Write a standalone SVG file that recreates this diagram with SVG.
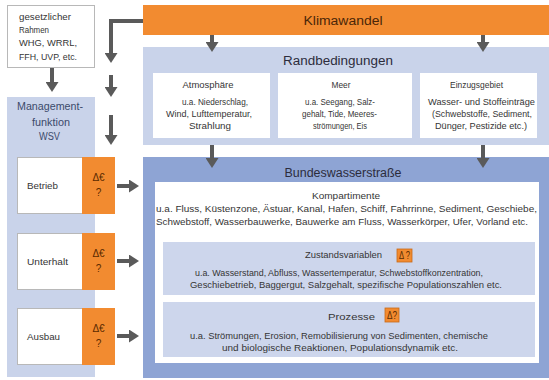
<svg xmlns="http://www.w3.org/2000/svg" width="549" height="380" viewBox="0 0 549 380">
<style>
text{font-family:"Liberation Sans",Arial,sans-serif;fill:#353535;font-size:9.5px;text-anchor:middle}
.t{font-size:12.5px;fill:#2c2c3c}
.kl{font-size:12.5px;fill:#4a2608}
.l{text-anchor:start}
.m{fill:#3c4a6a;font-size:10px}
.o{fill:#5a2a00;font-size:10px}
.lb{fill:#c9d3ea}
.wb{fill:#fff}
.wg{fill:#fff;stroke:#b8b8b8;stroke-width:1}
.or{fill:#f28b30}
.conn line,.conn path{stroke:#5a5a5a;stroke-width:4;fill:none}
</style>
<defs>
<marker id="ah" viewBox="0 0 10 13" refX="1" refY="6.5" markerWidth="10" markerHeight="13" markerUnits="userSpaceOnUse" orient="auto">
<path d="M0,0 L10,6.5 L0,13 z" fill="#5a5a5a"/>
</marker>
</defs>
<rect width="549" height="380" fill="#fff"/>

<g id="klimawandel">
<rect class="or" x="143" y="5" width="406" height="30"/>
<text class="kl" x="343" y="25" textLength="79" lengthAdjust="spacingAndGlyphs">Klimawandel</text>
</g>

<g id="gesetz">
<rect class="wg" x="7.5" y="5.5" width="87" height="62"/>
<text class="l" x="19" y="20" textLength="52" lengthAdjust="spacingAndGlyphs">gesetzlicher</text>
<text class="l" x="19" y="33" textLength="30" lengthAdjust="spacingAndGlyphs">Rahmen</text>
<text class="l" x="19" y="46" textLength="58" lengthAdjust="spacingAndGlyphs">WHG, WRRL,</text>
<text class="l" x="19" y="60" textLength="58" lengthAdjust="spacingAndGlyphs">FFH, UVP, etc.</text>
</g>

<g id="randbedingungen">
<rect class="lb" x="143" y="47" width="406" height="98"/>
<text class="t" x="338" y="65" textLength="110" lengthAdjust="spacingAndGlyphs">Randbedingungen</text>
</g>

<g id="atmosphaere">
<rect class="wb" x="153" y="73" width="117" height="65"/>
<text x="208" y="88" textLength="51" lengthAdjust="spacingAndGlyphs">Atmosphäre</text>
<text x="215" y="105" textLength="66" lengthAdjust="spacingAndGlyphs">u.a. Niederschlag,</text>
<text x="209" y="117" textLength="86" lengthAdjust="spacingAndGlyphs">Wind,  Lufttemperatur,</text>
<text x="210" y="129" textLength="42" lengthAdjust="spacingAndGlyphs">Strahlung</text>
</g>

<g id="meer">
<rect class="wb" x="278" y="73" width="134" height="65"/>
<text x="341" y="88" textLength="19" lengthAdjust="spacingAndGlyphs">Meer</text>
<text x="340" y="105" textLength="70" lengthAdjust="spacingAndGlyphs">u.a. Seegang, Salz-</text>
<text x="339.5" y="117" textLength="75" lengthAdjust="spacingAndGlyphs">gehalt, Tide, Meeres-</text>
<text x="340" y="129" textLength="54" lengthAdjust="spacingAndGlyphs">strömungen, Eis</text>
</g>

<g id="einzugsgebiet">
<rect class="wb" x="420" y="73" width="117" height="65"/>
<text x="476.5" y="88" textLength="53" lengthAdjust="spacingAndGlyphs">Einzugsgebiet</text>
<text x="481.5" y="105" textLength="107" lengthAdjust="spacingAndGlyphs">Wasser- und Stoffeinträge</text>
<text x="482" y="117" textLength="100" lengthAdjust="spacingAndGlyphs">(Schwebstoffe, Sediment,</text>
<text x="481" y="129" textLength="92" lengthAdjust="spacingAndGlyphs">Dünger, Pestizide etc.)</text>
</g>

<g id="management">
<rect class="lb" x="7" y="97" width="88" height="280"/>
<text class="m" x="50" y="110" textLength="66" lengthAdjust="spacingAndGlyphs">Management-</text>
<text class="m" x="51" y="126" textLength="38" lengthAdjust="spacingAndGlyphs">funktion</text>
<text class="m" x="49.5" y="140" textLength="21" lengthAdjust="spacingAndGlyphs">WSV</text>
</g>

<g id="betrieb">
<rect class="wg" x="17.5" y="157.5" width="65" height="56"/>
<rect class="or" x="82" y="157" width="33" height="57"/>
<text class="l" x="27" y="189" textLength="31" lengthAdjust="spacingAndGlyphs">Betrieb</text>
<text class="o" x="98.5" y="181">Δ€</text>
<text class="o" x="98.5" y="196">?</text>
</g>

<g id="unterhalt">
<rect class="wg" x="17.5" y="233.5" width="65" height="56"/>
<rect class="or" x="82" y="233" width="33" height="57"/>
<text class="l" x="27" y="265" textLength="41" lengthAdjust="spacingAndGlyphs">Unterhalt</text>
<text class="o" x="98.5" y="257">Δ€</text>
<text class="o" x="98.5" y="272">?</text>
</g>

<g id="ausbau">
<rect class="wg" x="17.5" y="308.5" width="65" height="56"/>
<rect class="or" x="82" y="308" width="33" height="57"/>
<text class="l" x="27" y="340" textLength="33" lengthAdjust="spacingAndGlyphs">Ausbau</text>
<text class="o" x="98.5" y="332">Δ€</text>
<text class="o" x="98.5" y="347">?</text>
</g>

<g id="bundeswasserstrasse">
<rect fill="#8ea4d4" x="143" y="157" width="406" height="221"/>
<text class="t" x="343" y="177" textLength="117" lengthAdjust="spacingAndGlyphs">Bundeswasserstraße</text>
</g>

<g id="kompartimente">
<rect class="wb" x="155" y="182" width="384" height="181"/>
<text x="346" y="199" textLength="68" lengthAdjust="spacingAndGlyphs">Kompartimente</text>
<text x="346.5" y="212" textLength="381" lengthAdjust="spacingAndGlyphs">u.a. Fluss, Küstenzone, Ästuar, Kanal, Hafen, Schiff, Fahrrinne, Sediment, Geschiebe,</text>
<text x="342" y="225" textLength="372" lengthAdjust="spacingAndGlyphs">Schwebstoff, Wasserbauwerke, Bauwerke am Fluss, Wasserkörper, Ufer, Vorland etc.</text>
</g>

<g id="zustandsvariablen">
<rect fill="#cdd6ec" x="163" y="242" width="372" height="53"/>
<text x="343.5" y="258" textLength="77" lengthAdjust="spacingAndGlyphs">Zustandsvariablen</text>
<rect class="or" x="397" y="249" width="15" height="13" stroke="#c86a18" stroke-width="0.8"/>
<text class="o" x="404.5" y="259" font-size="9.5" textLength="11" lengthAdjust="spacingAndGlyphs">Δ ?</text>
<text x="339" y="276" textLength="288" lengthAdjust="spacingAndGlyphs">u.a. Wasserstand, Abfluss, Wassertemperatur, Schwebstoffkonzentration,</text>
<text x="346" y="288" textLength="312" lengthAdjust="spacingAndGlyphs">Geschiebetrieb, Baggergut, Salzgehalt, spezifische Populationszahlen etc.</text>
</g>

<g id="prozesse">
<rect fill="#cdd6ec" x="163" y="302" width="372" height="55"/>
<text x="351.5" y="320" textLength="47" lengthAdjust="spacingAndGlyphs">Prozesse</text>
<rect class="or" x="385" y="308" width="14" height="14" stroke="#c86a18" stroke-width="0.8"/>
<text class="o" x="392" y="319" font-size="9.5" textLength="10" lengthAdjust="spacingAndGlyphs">Δ?</text>
<text x="339" y="339" textLength="298" lengthAdjust="spacingAndGlyphs">u.a. Strömungen, Erosion, Remobilisierung von Sedimenten, chemische</text>
<text x="340" y="351" textLength="236" lengthAdjust="spacingAndGlyphs">und biologische Reaktionen, Populationsdynamik etc.</text>
</g>

<g class="conn" id="connectors">
<path d="M143,21 H111 V54" marker-end="url(#ah)"/>
<line x1="111" y1="75" x2="111" y2="88" marker-end="url(#ah)"/>
<line x1="111" y1="115" x2="111" y2="136" marker-end="url(#ah)"/>
<line x1="52" y1="68" x2="52" y2="83" marker-end="url(#ah)"/>
<line x1="212" y1="35" x2="212" y2="43" marker-end="url(#ah)"/>
<line x1="483" y1="35" x2="483" y2="43" marker-end="url(#ah)"/>
<line x1="212" y1="145" x2="212" y2="159" marker-end="url(#ah)"/>
<line x1="483" y1="145" x2="483" y2="159" marker-end="url(#ah)"/>
<line x1="117" y1="186" x2="130" y2="186" marker-end="url(#ah)"/>
<line x1="117" y1="261" x2="130" y2="261" marker-end="url(#ah)"/>
<line x1="117" y1="336" x2="130" y2="336" marker-end="url(#ah)"/>
</g>
</svg>
